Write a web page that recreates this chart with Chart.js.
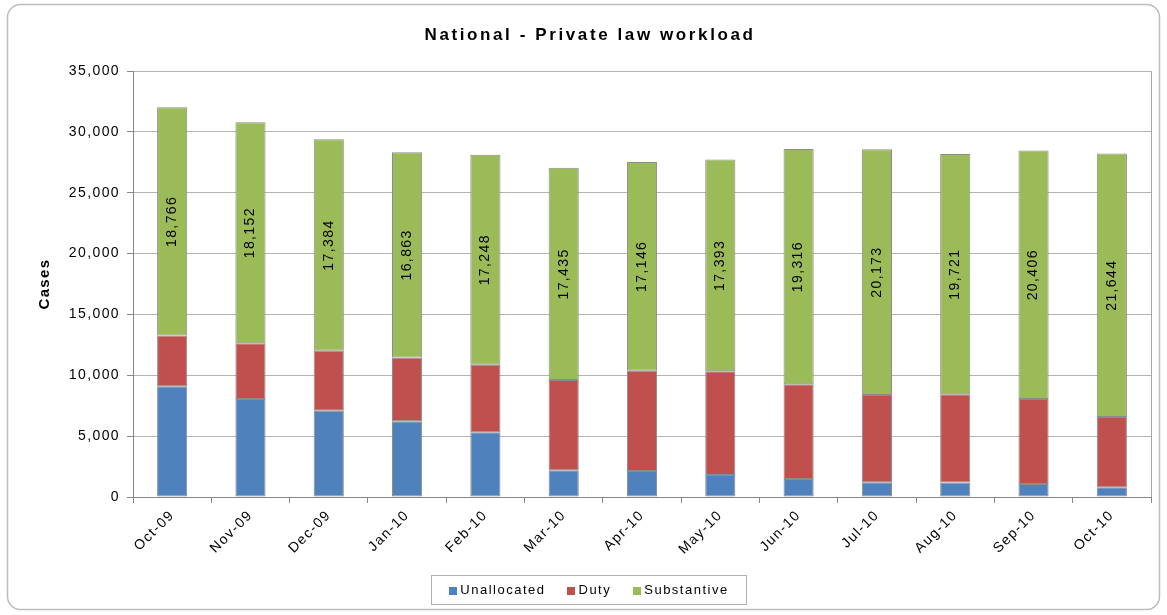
<!DOCTYPE html>
<html>
<head>
<meta charset="utf-8">
<script src="https://cdn.jsdelivr.net/npm/chart.js@4.4.1/dist/chart.umd.min.js"></script>
<style>
  html, body { margin: 0; padding: 0; background: #fff; }
  #wrap { width: 1167px; height: 615px; }
</style>
</head>
<body>
<div id="wrap"><canvas id="workloadChart" width="1167" height="615"></canvas></div>
<script>
const months = ["Oct-09", "Nov-09", "Dec-09", "Jan-10", "Feb-10", "Mar-10", "Apr-10",
    "May-10", "Jun-10", "Jul-10", "Aug-10", "Sep-10", "Oct-10"];
const unallocated = [9100, 8050, 7090, 6230, 5310, 2190, 2140, 1810, 1480, 1210, 1200, 1070, 810];
const duty = [4160, 4590, 4920, 5230, 5560, 7420, 8240, 8520, 7790, 7180, 7250, 6990, 5770];
const substantive = [18766, 18152, 17384, 16863, 17248, 17435, 17146, 17393, 19316, 20173, 19721, 20406, 21644];
const yTicks = [0, 5000, 10000, 15000, 20000, 25000, 30000, 35000];

const chartTitle = "National - Private law workload";
const fontFamily = "'Liberation Sans', Arial, sans-serif";
const fmt = (v) => v.toLocaleString("en-US");

// frame, title, value labels, legend box
const decorations = {
    id: "decorations",
    beforeLayout(chart) {
        chart.ctx.letterSpacing = "1.4px";
    },
    beforeDraw(chart) {
        const ctx = chart.ctx;
        ctx.letterSpacing = "1.4px";
        ctx.save();
        ctx.fillStyle = "#fff";
        ctx.fillRect(0, 0, chart.width, chart.height);
        ctx.beginPath();
        ctx.roundRect(7.5, 4.5, 1152, 605, 13);
        ctx.strokeStyle = "#bcbcbc";
        ctx.lineWidth = 1.5;
        ctx.stroke();

        ctx.letterSpacing = "2.6px";
        ctx.font = "bold 17px " + fontFamily;
        ctx.fillStyle = "#000";
        ctx.textAlign = "center";
        ctx.textBaseline = "middle";
        ctx.fillText(chartTitle, 590, 35);
        ctx.restore();
    },
    afterDatasetsDraw(chart) {
        const ctx = chart.ctx;
        const area = chart.chartArea;
        ctx.save();
        ctx.strokeStyle = "#a6a6a6";
        ctx.lineWidth = 1;
        ctx.beginPath();
        ctx.moveTo(Math.round(area.right) + 0.5, area.top);
        ctx.lineTo(Math.round(area.right) + 0.5, area.bottom);
        ctx.stroke();

        const meta = chart.getDatasetMeta(2);
        ctx.font = "14px " + fontFamily;
        ctx.letterSpacing = "1.4px";
        ctx.fillStyle = "#000";
        ctx.textAlign = "center";
        ctx.textBaseline = "middle";
        meta.data.forEach((bar, i) => {
            const cy = (bar.y + bar.base) / 2;
            ctx.save();
            ctx.translate(bar.x, cy);
            ctx.rotate(-Math.PI / 2);
            ctx.fillText(fmt(substantive[i]), 0, 0);
            ctx.restore();
        });
        ctx.restore();
    },
    afterDraw(chart) {
        const ctx = chart.ctx;
        const sets = chart.data.datasets;
        ctx.save();
        ctx.font = "13px " + fontFamily;
        ctx.letterSpacing = "1.5px";
        const box = 8, gap = 3, between = 22, padX = 18;
        const widths = sets.map((d) => box + gap + ctx.measureText(d.label).width);
        const content = widths.reduce((a, b) => a + b, 0) + between * (sets.length - 1);
        const w = content + padX * 2;
        const left = 589 - w / 2;
        const top = 575, h = 29;
        ctx.strokeStyle = "#b0b0b0";
        ctx.lineWidth = 1;
        ctx.strokeRect(Math.round(left) + 0.5, top + 0.5, Math.round(w), h);
        let x = left + padX;
        const cy = top + h / 2 + 1;
        ctx.textBaseline = "middle";
        ctx.textAlign = "left";
        sets.forEach((d, i) => {
            ctx.fillStyle = d.backgroundColor;
            ctx.fillRect(Math.round(x), Math.round(cy - box / 2), box, box);
            ctx.fillStyle = "#000";
            ctx.fillText(d.label, x + box + gap, cy);
            x += widths[i] + between;
        });
        ctx.restore();
    },
};

const barStyle = {
    borderColor: "#8c8c8c",
    borderWidth: 1,
    borderSkipped: false,
    barPercentage: 0.385,
    categoryPercentage: 1,
};

new Chart(document.getElementById("workloadChart"), {
    type: "bar",
    data: {
        labels: months,
        datasets: [
            { label: "Unallocated", data: unallocated, backgroundColor: "#4f81bd", ...barStyle },
            { label: "Duty", data: duty, backgroundColor: "#c0504d", ...barStyle },
            { label: "Substantive", data: substantive, backgroundColor: "#9bbb59", ...barStyle },
        ],
    },
    options: {
        responsive: false,
        animation: false,
        devicePixelRatio: 1,
        layout: { padding: { left: 36, right: 16, top: 71, bottom: 0 } },
        plugins: {
            legend: { display: false },
            title: { display: false },
            tooltip: { enabled: false },
        },
        scales: {
            x: {
                stacked: true,
                afterFit: (scale) => { scale.height = 118; },
                grid: {
                    offset: true,
                    drawOnChartArea: false,
                    drawTicks: true,
                    tickLength: 6,
                    color: "#868686",
                },
                border: { color: "#868686", width: 1 },
                ticks: {
                    minRotation: 45,
                    maxRotation: 45,
                    padding: 4,
                    color: "#000",
                    font: { family: fontFamily, size: 14 },
                },
            },
            y: {
                stacked: true,
                min: yTicks[0],
                max: yTicks[yTicks.length - 1],
                afterFit: (scale) => { scale.width = 97; },
                afterBuildTicks: (scale) => {
                    scale.ticks = yTicks.map((v) => ({ value: v }));
                },
                grid: {
                    color: "#b3b3b3",
                    tickColor: "#868686",
                    tickLength: 6,
                },
                border: { color: "#868686", width: 1 },
                ticks: {
                    padding: 7,
                    color: "#000",
                    font: { family: fontFamily, size: 14 },
                    callback: (v) => fmt(v),
                },
                title: {
                    display: true,
                    text: "Cases",
                    color: "#000",
                    padding: 0,
                    font: { family: fontFamily, size: 15, weight: "bold" },
                },
            },
        },
    },
    plugins: [decorations],
});
</script>
</body>
</html>
